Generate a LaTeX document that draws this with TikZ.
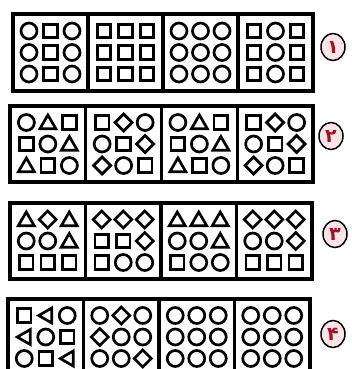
\documentclass[tikz,border=0pt]{standalone}
\usepackage{fontspec}
\newfontfamily\arabicfont[Script=Arabic]{DejaVu Sans}
\TeXXeTstate=1
\usetikzlibrary{shapes.geometric}
\definecolor{numred}{RGB}{165,15,35}
\definecolor{numfill}{RGB}{250,228,232}
\tikzset{
  shp/.style={line width=2.7pt, draw=black, line join=miter},
  boxline/.style={line width=3.2pt, draw=black},
  numcirc/.style={ellipse, draw=black, line width=1.5pt, fill=numfill,
    minimum width=24pt, minimum height=27pt, inner sep=0pt,
    text=numred, font=\arabicfont\bfseries\fontsize{19}{19}\selectfont},
  pics/C/.style={code={\draw[shp] (0,0) circle (8pt);}},
  pics/S/.style={code={\draw[shp] (-6.8pt,-6.8pt) rectangle (6.8pt,6.8pt);}},
  pics/T/.style={code={\draw[shp] (-8pt,-6.3pt) -- (8pt,-6.3pt) -- (0,7.5pt) -- cycle;}},
  pics/D/.style={code={\draw[shp] (0,-8.5pt) -- (8.5pt,0) -- (0,8.5pt) -- (-8.5pt,0) -- cycle;}},
  pics/L/.style={code={\draw[shp] (6pt,-7.5pt) -- (6pt,7.5pt) -- (-7pt,0) -- cycle;}},
}
% #1 cx, #2 cy, #3 list of nine shape codes
\newcommand\cellgrid[3]{%
  \foreach \s [count=\k from 0] in {#3} {%
    \pgfmathtruncatemacro\cc{mod(\k,3)}%
    \pgfmathtruncatemacro\rr{div(\k,3)}%
    \pgfmathsetmacro\px{#1+(\cc-1)*21.5}%
    \pgfmathsetmacro\py{#2+(\rr-1)*21.5}%
    \edef\doit{\noexpand\pic at (\px,\py) {\s};}\doit
  }%
}
% #1 left, #2 right, #3 top, #4 bottom, #5..#8 cell lists
\newcommand\puzzlerow[8]{%
  \draw[boxline] (#1,#3) rectangle (#2,#4);
  \pgfmathsetmacro\cw{(#2-#1)/4}%
  \foreach \i in {1,2,3} {\draw[boxline] ({#1+\i*\cw},#3) -- ({#1+\i*\cw},#4);}
  \pgfmathsetmacro\cy{(#3+#4)/2}%
  \pgfmathsetmacro\ca{#1+0.5*\cw}\cellgrid{\ca}{\cy}{#5}
  \pgfmathsetmacro\ca{#1+1.5*\cw}\cellgrid{\ca}{\cy}{#6}
  \pgfmathsetmacro\ca{#1+2.5*\cw}\cellgrid{\ca}{\cy}{#7}
  \pgfmathsetmacro\ca{#1+3.5*\cw}\cellgrid{\ca}{\cy}{#8}
}
\begin{document}
\begin{tikzpicture}[x=1pt,y=-1pt]
\useasboundingbox (0,0) rectangle (352,369);
\clip (0,0) rectangle (352,369);
\fill[white] (0,0) rectangle (352,369);
% row 1
\puzzlerow{13}{313}{14}{91}
  {C,S,C,C,S,C,C,S,C}
  {S,S,S,S,S,S,S,S,S}
  {C,C,C,C,C,C,C,C,C}
  {S,C,S,S,C,S,S,C,S}
% row 2
\puzzlerow{10}{313}{106}{182}
  {C,T,S,S,C,T,T,S,C}
  {S,D,C,C,S,D,D,C,S}
  {C,T,S,S,C,T,T,S,C}
  {S,D,C,C,S,D,D,C,S}
% row 3
\puzzlerow{10}{312}{203}{279}
  {T,D,T,C,C,T,S,S,S}
  {D,D,D,S,S,D,S,C,C}
  {T,T,T,C,C,T,S,C,C}
  {D,D,D,C,C,D,S,S,S}
% row 4
\puzzlerow{8}{310}{299}{375}
  {S,L,C,L,C,S,C,S,L}
  {C,D,C,D,C,C,C,C,D}
  {C,C,C,C,C,C,C,C,C}
  {C,C,C,C,C,C,C,C,C}
% circled numbers
\node[numcirc] (n1) at (333,47) {\beginR ۱\endR};
\node[numcirc] (n2) at (331,136) {\beginR ۲\endR};
\node[numcirc] (n3) at (335,234) {\beginR ۳\endR};
\node[numcirc] (n4) at (333,334) {\beginR ۴\endR};
\end{tikzpicture}
\end{document}
